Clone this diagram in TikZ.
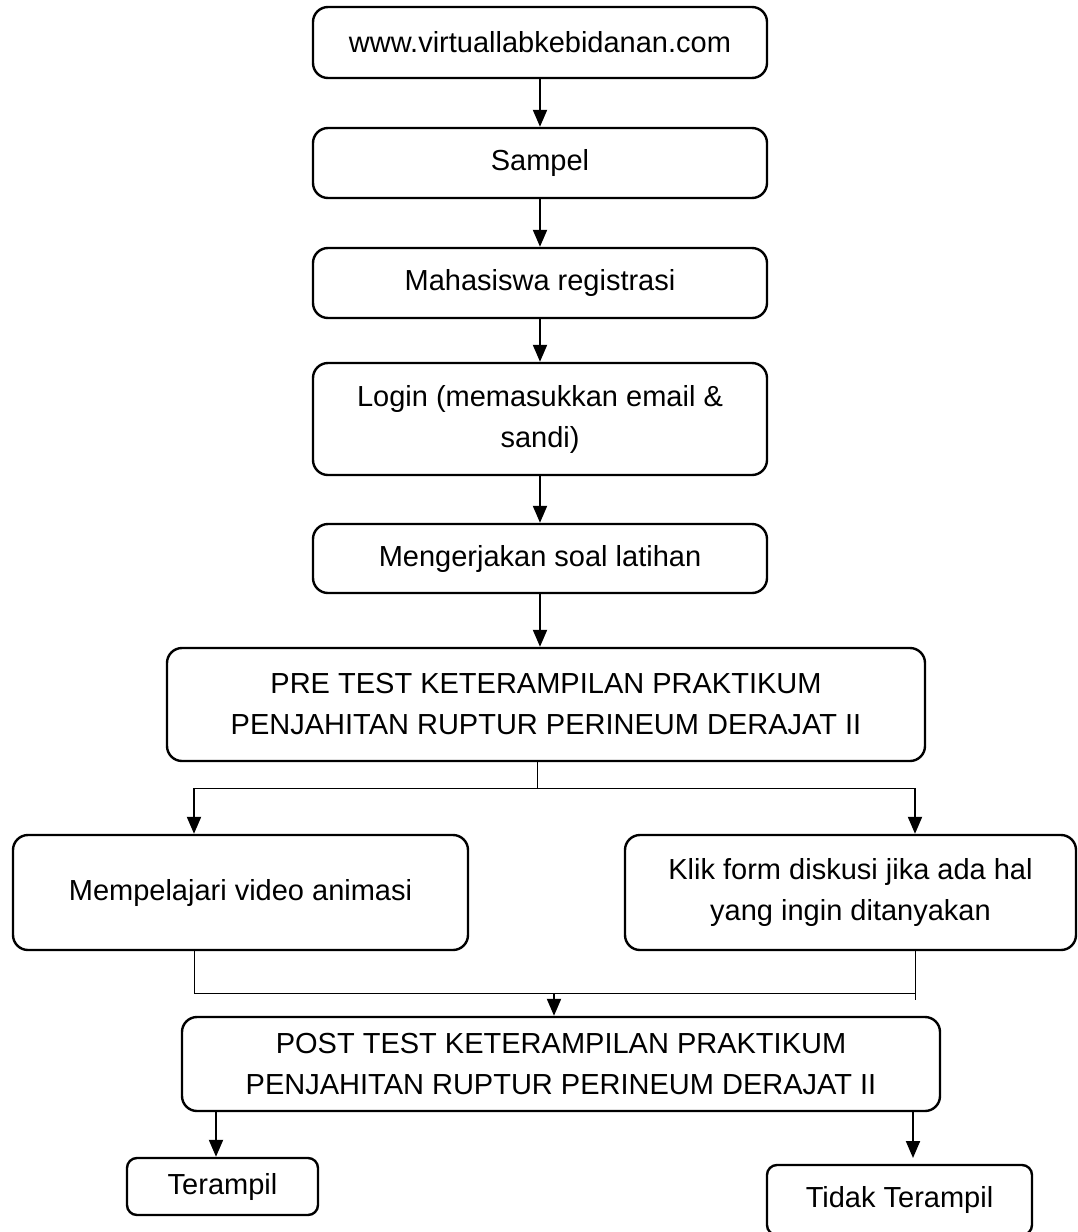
\documentclass[tikz,border=0pt]{standalone}
\usepackage{fontspec}
\setmainfont{Liberation Sans}
\usetikzlibrary{arrows.meta}
\begin{document}
\begin{tikzpicture}[x=1pt,y=-1pt,
  box/.style={draw, line width=2.4pt, rounded corners=15pt, align=center, inner sep=0pt,
    font=\fontsize{29}{41}\selectfont},
  smallbox/.style={box, rounded corners=10pt},
  arr/.style={line width=2pt, -{Triangle[length=17pt,width=14pt]}},
  thinline/.style={line width=1pt}]
\useasboundingbox (0,0) rectangle (1077,1232);
\node[box, minimum width=454pt, minimum height=71pt] (b1) at (540,42.5) {www.virtuallabkebidanan.com};
\node[box, minimum width=454pt, minimum height=70pt] (b2) at (540,163) {Sampel};
\node[box, minimum width=454pt, minimum height=70pt] (b3) at (540,283) {Mahasiswa registrasi};
\node[box, minimum width=454pt, minimum height=112pt] (b4) at (540,419) {Login (memasukkan email \&\\sandi)};
\node[box, minimum width=454pt, minimum height=69pt] (b5) at (540,558.5) {Mengerjakan soal latihan};
\node[box, minimum width=758pt, minimum height=113pt] (b6) at (546,704.5) {PRE TEST KETERAMPILAN PRAKTIKUM\\PENJAHITAN RUPTUR PERINEUM DERAJAT II};
\node[box, minimum width=455pt, minimum height=115pt] (b7) at (240.5,892.5) {Mempelajari video animasi};
\node[box, minimum width=451pt, minimum height=115pt] (b8) at (850.5,892.5) {Klik form diskusi jika ada hal\\yang ingin ditanyakan};
\node[box, minimum width=758pt, minimum height=94pt] (b9) at (561,1064) {POST TEST KETERAMPILAN PRAKTIKUM\\PENJAHITAN RUPTUR PERINEUM DERAJAT II};
\node[smallbox, minimum width=191pt, minimum height=57pt] (b10) at (222.5,1186.5) {Terampil};
\node[smallbox, minimum width=265pt, minimum height=70pt] (b11) at (899.5,1200) {Tidak Terampil};

\draw[arr] (b1.south) -- (b2.north);
\draw[arr] (b2.south) -- (b3.north);
\draw[arr] (b3.south) -- (b4.north);
\draw[arr] (b4.south) -- (b5.north);
\draw[arr] (b5.south) -- (b5.south |- b6.north);

\coordinate (sc) at (537,788);
\coordinate (sl) at (194,788);
\coordinate (sr) at (915,788);
\draw[thinline] (sc |- b6.south) -- (sc);
\draw[thinline] (sl) -- (sr);
\draw[arr] (sl) -- (sl |- b7.north);
\draw[arr] (sr) -- (sr |- b8.north);

\coordinate (ml) at (194,993);
\coordinate (mr) at (915,993);
\coordinate (mre) at (915,1000);
\coordinate (mc) at (554,993);
\draw[thinline] (ml |- b7.south) -- (ml) -- (mr);
\draw[thinline] (mr |- b8.south) -- (mre);
\draw[arr] (mc) -- (mc |- b9.north);

\coordinate (tl) at (216,1110);
\coordinate (tr) at (913,1110);
\coordinate (trend) at (913,1158);
\draw[arr] (tl |- b9.south) -- (tl |- b10.north);
\draw[arr] (tr |- b9.south) -- (trend);
\end{tikzpicture}
\end{document}
